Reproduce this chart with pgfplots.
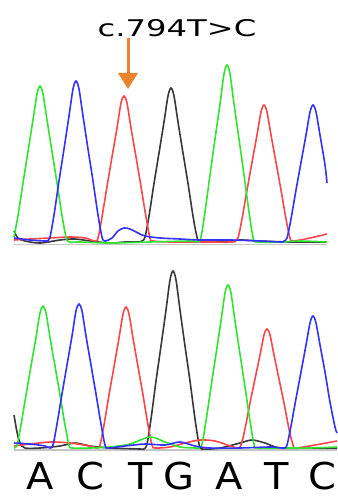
\documentclass[border=0pt]{standalone}
\usepackage{pgfplots}
\pgfplotsset{compat=1.18}
\usepackage{graphicx}
\usepackage{fontspec}
\setmainfont{DejaVu Sans}
\definecolor{tgreen}{RGB}{50,228,50}
\definecolor{tblue}{RGB}{50,50,250}
\definecolor{tred}{RGB}{250,70,75}
\definecolor{tblack}{RGB}{55,55,60}
\definecolor{tarrow}{RGB}{235,130,45}
\newcommand{\base}[1]{\fontsize{37}{37}\selectfont\scalebox{1.08}[1]{#1}}
\begin{document}
\begin{tikzpicture}
\begin{axis}[
  scale only axis, width=337pt, height=497pt,
  xmin=0, xmax=337, ymin=0, ymax=497, y dir=reverse,
  hide axis, clip=false,
  every axis plot/.append style={line width=1.6pt, smooth, no marks},
]
\path (axis cs:0,0) rectangle (axis cs:337,497);
% baselines
\addplot[gray!45, line width=1pt, sharp plot] coordinates {(14,244) (327,244)};
\addplot[gray!45, line width=1.2pt, sharp plot] coordinates {(14,450) (337,450)};
% ---------- top panel ----------
\addplot[tblack] coordinates {(14,231)(18,238)(25,241)(40,243)(60,240)(75,239)(90,241)(110,243)(125,242)(138,242)(142,241)(145,237)(149,216)(154,183.5)(159,153)(164,122)(168,96)(171,88)(174,96)(178,122)(183,153)(188,183.5)(193,216)(197,237)(200,241)(220,242)(240,240)(260,241)(290,242)(327,242)};
\addplot[tred] coordinates {(14,240)(30,239)(50,238)(70,237)(85,238)(95,241)(98,238)(102,217)(107,186.5)(112,157)(117,128)(121,103)(124,96)(127,103)(131,128)(136,157)(141,186.5)(146,217)(150,238)(153,241)(170,242)(200,242)(232,242)(235,241)(238,238)(242,219)(247,190)(252,162.5)(257,135)(261,112)(264,105)(267,112)(271,135)(276,162.5)(281,190)(286,219)(290,238)(293,241)(310,238)(327,234)};
\addplot[tgreen] coordinates {(14,237)(18,215.5)(23,183)(28,151.5)(33,120)(37,94)(40,86)(43,94)(47,120)(52,151.5)(57,183)(62,215.5)(66,237)(69,242)(80,242)(110,243)(150,242)(190,241)(198,242)(201,237)(205,212)(210,175)(215,139)(220,104)(224,74)(227,65)(230,74)(234,104)(239,139)(244,175)(249,212)(253,237)(256,242)(280,242)(300,241)(327,242)};
\addplot[tblue] coordinates {(14,238)(30,240)(44,241)(47,241)(50,237)(54,215)(59,181)(64,149)(69,116)(73,89)(76,81)(79,89)(83,116)(88,149)(93,181)(98,215)(102,237)(105,241)(112,238)(118,231)(124,228)(130,229)(138,233)(145,236)(160,238)(180,239)(200,240)(230,240)(260,241)(281,242)(284,241)(287,238)(291,219)(296,190)(301,162.5)(306,135)(310,112)(313,105)(316,112)(320,135)(325,165)(327,183)};
% ---------- bottom panel ----------
\addplot[tblack] coordinates {(14,415)(17,432)(20,443)(25,448)(40,448)(60,446)(75,443)(90,446)(110,448)(140,449)(144,449)(147,444)(151,419)(156,381)(161,346)(166,310)(170,280)(173,271)(176,280)(180,310)(185,346)(190,381)(195,419)(199,444)(202,449)(220,448)(240,443)(252,440)(265,443)(280,448)(310,448)(337,448)};
\addplot[tred] coordinates {(14,446)(30,444)(50,442)(70,443)(90,446)(97,448)(100,445)(104,425)(109,395)(114,366.6)(119,338)(123,314)(126,307)(129,314)(133,338)(138,366.6)(143,395)(148,425)(152,445)(155,448)(170,447)(185,443)(200,440)(215,441)(230,446)(238,448)(241,445)(245,429)(250,403)(255,379)(260,355)(264,335)(267,329)(270,335)(274,355)(279,379)(284,403)(289,429)(293,445)(296,448)(315,445)(337,441)};
\addplot[tgreen] coordinates {(14,448)(17,445)(21,425)(26,395)(31,366)(36,337.5)(40,313)(43,306)(46,313)(50,337.5)(55,366)(60,395)(65,425)(69,445)(72,448)(90,448)(110,447)(130,444)(150,437)(165,442)(180,447)(196,448)(199,448)(202,444)(206,421)(211,387)(216,354)(221,321)(225,293)(228,285)(231,293)(235,321)(240,354)(245,387)(250,421)(254,444)(257,448)(290,448)(310,448)(337,447)};
\addplot[tblue] coordinates {(14,443)(30,444)(45,446)(50,448)(53,445)(57,424)(62,394)(67,365)(72,336)(76,311)(79,304)(82,311)(86,336)(91,365)(96,394)(101,424)(105,445)(108,448)(125,446)(145,444)(165,445)(180,442)(195,446)(210,448)(240,448)(270,447)(284,448)(287,445)(291,426)(296,398.5)(301,372)(306,345)(310,323)(313,316)(316,323)(320,345)(325,372)(330,402)(335,427)(337,433)};
% ---------- annotation ----------
\node[inner sep=0pt] at (axis cs:177,28) {\fontsize{23}{23}\selectfont\scalebox{1.4}[1]{c.794T>C}};
\draw[tarrow, line width=3pt] (axis cs:128,38) -- (axis cs:128,75);
\fill[tarrow] (axis cs:118,73) -- (axis cs:138,73) -- (axis cs:128,89) -- cycle;
% ---------- base letters ----------
\node[inner sep=0pt] at (axis cs:40,476.5) {\base{A}};
\node[inner sep=0pt] at (axis cs:90,476.5) {\base{C}};
\node[inner sep=0pt] at (axis cs:141,476.5) {\base{T}};
\node[inner sep=0pt] at (axis cs:179,476.5) {\base{G}};
\node[inner sep=0pt] at (axis cs:229,476.5) {\base{A}};
\node[inner sep=0pt] at (axis cs:277,476.5) {\base{T}};
\node[inner sep=0pt] at (axis cs:322,476.5) {\base{C}};
\end{axis}
\end{tikzpicture}
\end{document}
